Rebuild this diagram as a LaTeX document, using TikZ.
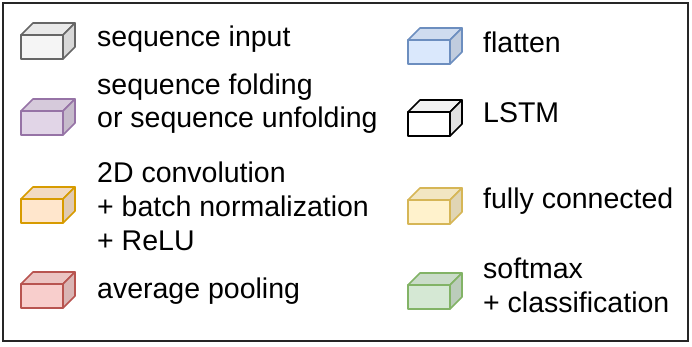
\documentclass[tikz,border=0pt]{standalone}
\usepackage{fontspec}
\setmainfont{Liberation Sans}
\usetikzlibrary{positioning}

\definecolor{grayfill}{HTML}{F5F5F5}
\definecolor{graydraw}{HTML}{666666}
\definecolor{purplefill}{HTML}{E1D5E7}
\definecolor{purpledraw}{HTML}{9673A6}
\definecolor{orangefill}{HTML}{FFE6CC}
\definecolor{orangedraw}{HTML}{D79B00}
\definecolor{redfill}{HTML}{F8CECC}
\definecolor{reddraw}{HTML}{B85450}
\definecolor{bluefill}{HTML}{DAE8FC}
\definecolor{bluedraw}{HTML}{6C8EBF}
\definecolor{whitefill}{HTML}{FFFFFF}
\definecolor{blackdraw}{HTML}{000000}
\definecolor{yellowfill}{HTML}{FFF2CC}
\definecolor{yellowdraw}{HTML}{D6B656}
\definecolor{greenfill}{HTML}{D5E8D4}
\definecolor{greendraw}{HTML}{82B366}

\begin{document}
\begin{tikzpicture}[
        x=1pt, y=-1pt,
        legtext/.style={anchor=base west, inner sep=0pt, align=left,
            font=\fontsize{28.5}{33.5}\selectfont},
        pics/legcube/.style 2 args={code={
            \filldraw[line width=1.6pt, line join=round, draw=#1, fill=#2!95!black]
                (0,0) -- (12,-12) -- (54,-12) -- (42,0) -- cycle;
            \filldraw[line width=1.6pt, line join=round, draw=#1, fill=#2!88!black]
                (42,0) -- (54,-12) -- (54,12) -- (42,24) -- cycle;
            \filldraw[line width=1.6pt, line join=round, draw=#1, fill=#2]
                (0,0) rectangle (42,24);
        }}
    ]
        \useasboundingbox (0,0) rectangle (692,347);
        \draw[line width=2pt, draw=black!85] (3,3) rectangle (688,341);

        % left column
        \pic at (21,35)  {legcube={graydraw}{grayfill}};
        \node[legtext] (seqinput) at (97,47) {sequence input};

        \pic at (21,111) {legcube={purpledraw}{purplefill}};
        \node[legtext] (seqfold) at (97,128) {sequence folding\\or sequence unfolding};

        \pic at (21,199) {legcube={orangedraw}{orangefill}};
        \node[legtext] (convbn) at (97,250) {2D convolution\\+ batch normalization\\+ ReLU};

        \pic at (21,284) {legcube={reddraw}{redfill}};
        \node[legtext] (avgpool) at (97,298) {average pooling};

        % right column
        \pic at (408,40)  {legcube={bluedraw}{bluefill}};
        \node[legtext] (flatten) at (483,53) {flatten};

        \pic at (408,112) {legcube={blackdraw}{whitefill}};
        \node[legtext] (lstm) at (483,123) {LSTM};

        \pic at (408,200) {legcube={yellowdraw}{yellowfill}};
        \node[legtext] (fullyconn) at (483,208) {fully connected};

        \pic at (408,285) {legcube={greendraw}{greenfill}};
        \node[legtext] (softmax) at (483,312) {softmax\\+ classification};
\end{tikzpicture}
\end{document}
